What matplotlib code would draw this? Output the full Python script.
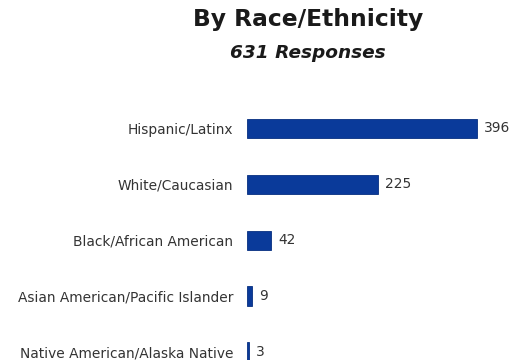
import matplotlib.pyplot as plt

# data
categories = ['Hispanic/Latinx', 'White/Caucasian', 'Black/African American',
              'Asian American/Pacific Islander', 'Native American/Alaska Native']
counts = [396, 225, 42, 9, 3]

fig = plt.figure(figsize=(5.13, 3.6), dpi=100)
ax = fig.add_axes([0.4815, 0.0, 0.5185, 0.722])

pos = list(range(len(categories)))
ax.barh(pos, counts, height=0.34, color='#0a3a9a', edgecolor='#062f80', linewidth=0.6)
ax.set_xlim(0, 458)
ax.set_ylim(4.143, -0.5)

# value labels just past the bar end
for p, c in zip(pos, counts):
    ax.annotate(str(c), (c, p), xytext=(5, 0), textcoords='offset points',
                va='center', ha='left', fontsize=9.9, color='#333333')

ax.set_yticks(pos)
ax.set_yticklabels(categories, fontsize=9.9, color='#333333')
ax.tick_params(axis='y', length=0, pad=10)
ax.set_xticks([])
for s in ax.spines.values():
    s.set_visible(False)

fig.text(0.6, 0.945, 'By Race/Ethnicity', ha='center', va='center',
         fontsize=16.8, fontweight='bold', color='#1a1a1a')
fig.text(0.6, 0.852, '631 Responses', ha='center', va='center',
         fontsize=13.3, fontweight='bold', fontstyle='italic', color='#1a1a1a')

fig.savefig('out.png', dpi=100)
